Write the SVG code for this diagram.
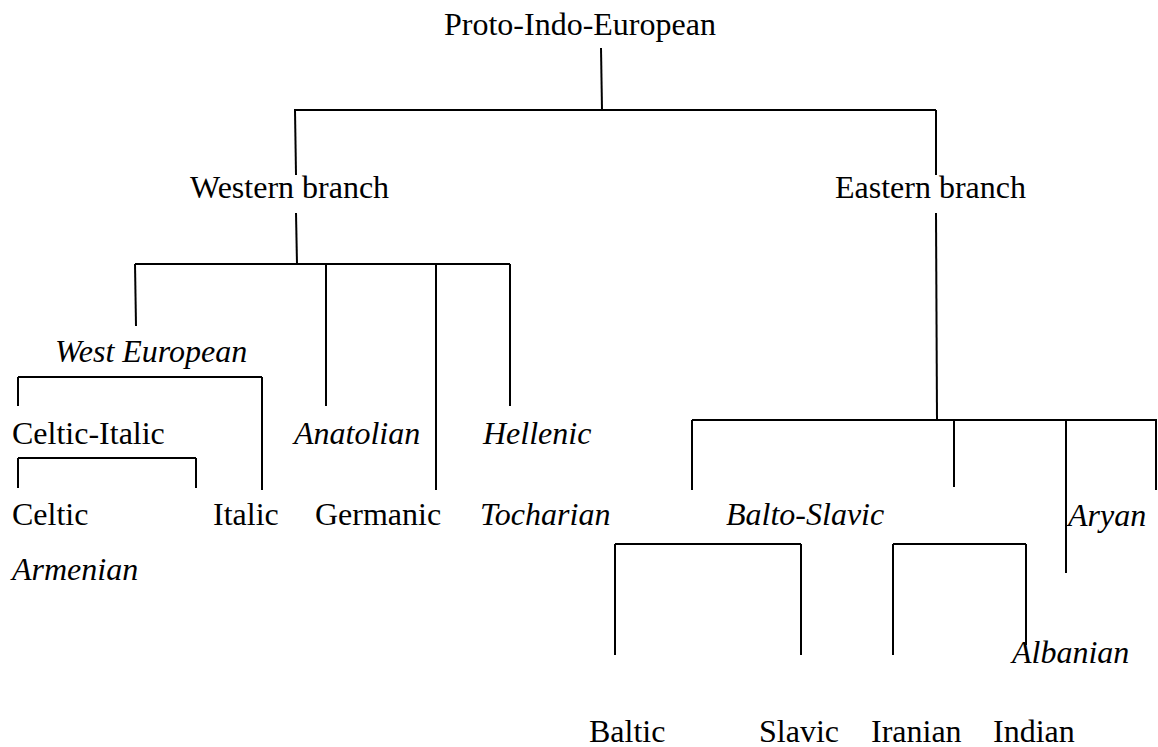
<svg xmlns="http://www.w3.org/2000/svg" width="1158" height="747" viewBox="0 0 1158 747">
<style>
.t{font-family:"Liberation Serif","Times New Roman",serif;font-size:32px;fill:#000}
.i{font-style:italic}
.c line{stroke:#000;stroke-width:2;fill:none}
</style>
<rect width="1158" height="747" fill="#fff"/>
<g id="connectors" class="c">
<line x1="601" y1="48" x2="602" y2="110"/>
<line x1="294" y1="110" x2="936" y2="110"/>
<line x1="295" y1="110" x2="296" y2="175"/>
<line x1="936" y1="110" x2="936" y2="175"/>
<line x1="296" y1="213" x2="297" y2="264"/>
<line x1="135" y1="264" x2="510" y2="264"/>
<line x1="135" y1="264" x2="136" y2="326"/>
<line x1="326" y1="264" x2="326" y2="406"/>
<line x1="436" y1="264" x2="436" y2="490"/>
<line x1="510" y1="264" x2="510" y2="406"/>
<line x1="18" y1="377" x2="262" y2="377"/>
<line x1="18" y1="377" x2="18" y2="406"/>
<line x1="262" y1="377" x2="262" y2="490"/>
<line x1="18" y1="458" x2="196" y2="458"/>
<line x1="18" y1="458" x2="18" y2="488"/>
<line x1="196" y1="458" x2="196" y2="488"/>
<line x1="936" y1="213" x2="937" y2="420"/>
<line x1="692" y1="420" x2="1157" y2="420"/>
<line x1="692" y1="420" x2="692" y2="490"/>
<line x1="954" y1="420" x2="954" y2="487"/>
<line x1="1066" y1="420" x2="1066" y2="573"/>
<line x1="1156" y1="420" x2="1156" y2="490"/>
<line x1="615" y1="544" x2="801" y2="544"/>
<line x1="615" y1="544" x2="615" y2="655"/>
<line x1="801" y1="544" x2="801" y2="655"/>
<line x1="893" y1="544" x2="1026" y2="544"/>
<line x1="893" y1="544" x2="893" y2="655"/>
<line x1="1026" y1="544" x2="1026" y2="645"/>
</g>
<g id="pie"><text class="t" x="444" y="35">Proto-Indo-European</text></g>
<g id="western"><text class="t" x="190" y="198">Western branch</text></g>
<g id="eastern"><text class="t" x="835" y="198">Eastern branch</text></g>
<g id="west-european"><text class="t i" x="55" y="362">West European</text></g>
<g id="celtic-italic"><text class="t" x="12" y="444">Celtic-Italic</text></g>
<g id="anatolian"><text class="t i" x="294" y="444">Anatolian</text></g>
<g id="hellenic"><text class="t i" x="483" y="444">Hellenic</text></g>
<g id="celtic"><text class="t" x="12" y="525">Celtic</text></g>
<g id="italic"><text class="t" x="213" y="525">Italic</text></g>
<g id="germanic"><text class="t" x="315" y="525">Germanic</text></g>
<g id="tocharian"><text class="t i" x="480" y="525">Tocharian</text></g>
<g id="armenian"><text class="t i" x="12" y="580">Armenian</text></g>
<g id="balto-slavic"><text class="t i" x="726" y="525">Balto-Slavic</text></g>
<g id="aryan"><text class="t i" x="1068" y="526">Aryan</text></g>
<g id="albanian"><text class="t i" x="1012" y="663">Albanian</text></g>
<g id="baltic"><text class="t" x="589" y="742">Baltic</text></g>
<g id="slavic"><text class="t" x="759" y="742">Slavic</text></g>
<g id="iranian"><text class="t" x="871" y="742">Iranian</text></g>
<g id="indian"><text class="t" x="993" y="742">Indian</text></g>
</svg>
